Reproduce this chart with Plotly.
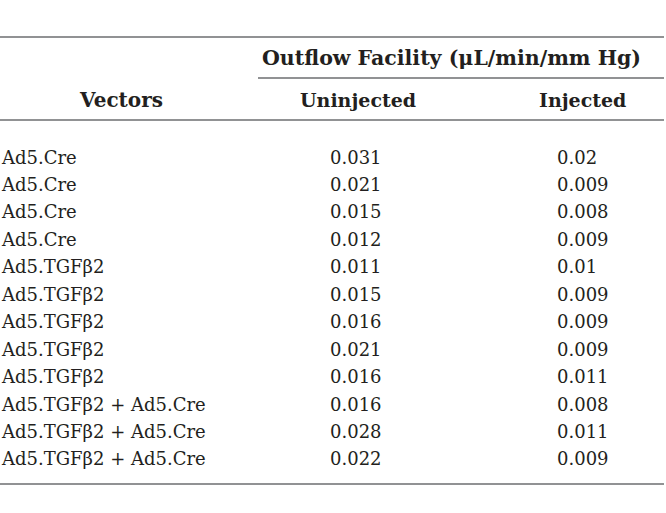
import plotly.graph_objects as go

vectors = ["Ad5.Cre", "Ad5.Cre", "Ad5.Cre", "Ad5.Cre",
           "Ad5.TGFβ2", "Ad5.TGFβ2", "Ad5.TGFβ2", "Ad5.TGFβ2", "Ad5.TGFβ2",
           "Ad5.TGFβ2 + Ad5.Cre", "Ad5.TGFβ2 + Ad5.Cre", "Ad5.TGFβ2 + Ad5.Cre"]
uninjected = [0.031, 0.021, 0.015, 0.012, 0.011, 0.015, 0.016, 0.021, 0.016, 0.016, 0.028, 0.022]
injected = [0.02, 0.009, 0.008, 0.009, 0.01, 0.009, 0.009, 0.009, 0.011, 0.008, 0.011, 0.009]
group_header = "Outflow Facility (μL/min/mm Hg)"
col_headers = ["Vectors", "Uninjected", "Injected"]

W, H = 666, 513
FONT = "DejaVu Serif"
TXT = "#231f20"
LINE = "#6d6e71"
fs = 18
hdr_fs = [20, 19, 19]
group_fs = 20.5

row_y0, row_step = 157, 27.45
col_left = [0, 329, 556]
hdr_cx = [121, 358, 582]

fig = go.Figure()
ann = []
for i, (v, u, inj) in enumerate(zip(vectors, uninjected, injected)):
    y = row_y0 + i * row_step
    for cx, t in zip(col_left, [v, str(u), str(inj)]):
        ann.append(dict(x=cx, y=y, text=t, showarrow=False, xanchor="left", yanchor="middle",
                        font=dict(family=FONT, size=fs, color=TXT), xref="x", yref="y", borderpad=0))
for cx, t, s in zip(hdr_cx, col_headers, hdr_fs):
    ann.append(dict(x=cx, y=100, text="<b>%s</b>" % t, showarrow=False, xanchor="center", yanchor="middle",
                    font=dict(family=FONT, size=s, color=TXT), xref="x", yref="y"))
ann.append(dict(x=451, y=58, text="<b>%s</b>" % group_header, showarrow=False, xanchor="center",
                yanchor="middle", font=dict(family=FONT, size=group_fs, color=TXT), xref="x", yref="y"))

shapes = [
    dict(type="line", x0=0, x1=664, y0=37, y1=37, line=dict(color=LINE, width=1.5), xref="x", yref="y"),
    dict(type="line", x0=258, x1=664, y0=78, y1=78, line=dict(color=LINE, width=1.5), xref="x", yref="y"),
    dict(type="line", x0=0, x1=664, y0=120, y1=120, line=dict(color=LINE, width=1.5), xref="x", yref="y"),
    dict(type="line", x0=0, x1=664, y0=484, y1=484, line=dict(color=LINE, width=1.5), xref="x", yref="y"),
]

fig.update_layout(
    width=W, height=H, margin=dict(l=0, r=0, t=0, b=0),
    paper_bgcolor="white", plot_bgcolor="white",
    xaxis=dict(range=[0, W], visible=False, fixedrange=True),
    yaxis=dict(range=[H, 0], visible=False, fixedrange=True),
    annotations=ann, shapes=shapes, showlegend=False,
)
fig.write_html("out.html", config={"displayModeBar": False},
               post_script="document.body.style.margin='0';document.body.style.padding='0';")
